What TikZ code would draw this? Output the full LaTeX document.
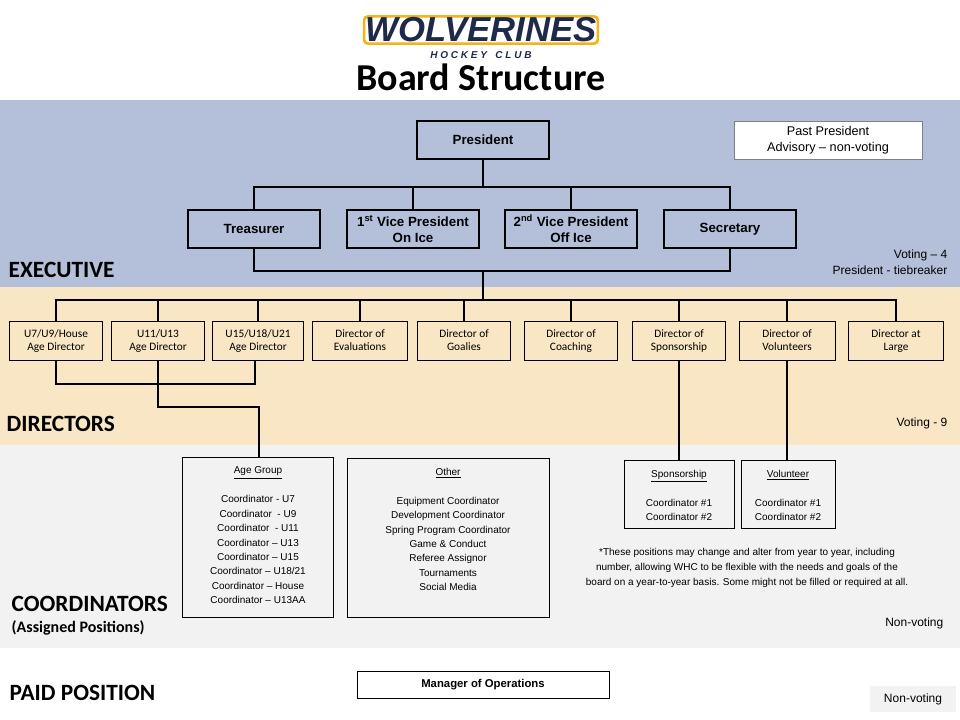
\documentclass[tikz,border=0pt]{standalone}
\usepackage{fontspec}
\setmainfont{Liberation Sans}
\newfontfamily\calib{Carlito}
\usetikzlibrary{positioning}

\definecolor{execblue}{HTML}{B4C0DA}
\definecolor{dirtan}{HTML}{F8E6C4}
\definecolor{coordgrey}{HTML}{F2F2F2}
\definecolor{navy}{HTML}{1F2A4A}
\definecolor{gold}{HTML}{F2B418}

\newcommand\twoline[2]{\strut#1\\\strut#2}

\tikzset{
  role/.style={draw, thick, minimum height=28.5pt, align=center, font=\fontsize{10}{12}\selectfont\bfseries, inner sep=1pt},
  dir/.style={draw, minimum height=29pt, align=center, font=\calib\fontsize{8.5}{10}\selectfont, inner sep=1pt},
  pool/.style={align=center, font=\fontsize{7.5}{10.8}\selectfont, inner sep=2pt, anchor=north},
  band/.style={font=\calib\bfseries\fontsize{17.5}{20}\selectfont, anchor=west},
  vote/.style={font=\fontsize{9}{12}\selectfont, align=right, anchor=east},
  wire/.style={thick}
}

\begin{document}
\begin{tikzpicture}[x=0.75pt, y=-0.75pt]

    % --- bands ---
    \useasboundingbox (0,0) rectangle (960,720);
    \fill[white] (0,0) rectangle (960,720);
    \fill[execblue] (0,100) rectangle (960,287);
    \fill[dirtan] (0,287) rectangle (960,445);
    \fill[coordgrey] (0,445) rectangle (960,648);

    % --- title ---
    \node[font=\bfseries\itshape\fontsize{26}{26}\selectfont, text=navy, draw=gold, line width=2pt, fill=white, rounded corners=3pt, inner sep=1pt] (logo) at (481,30) {WOLVERINES};
    \node[font=\bfseries\itshape\fontsize{7.5}{7.5}\selectfont, text=navy] (club) at (481,55) {H O C K E Y \ \ C L U B};
    \node[font=\calib\bfseries\fontsize{28.5}{28}\selectfont] (title) at (481,77) {Board Structure};

    % --- executive ---
    \node[role, minimum width=99pt] (pres) at (483,140) {President};
    \node[draw=gray, fill=white, minimum width=141pt, minimum height=28.5pt, align=center, font=\fontsize{9.5}{12}\selectfont] (past) at (828,140) {Past President\\Advisory -- non-voting};
    \node[role, minimum width=99pt] (treas) at (254,229) {Treasurer};
    \node[role, minimum width=99pt] (vp1) at (413,229) {1\textsuperscript{st} Vice President\\On Ice};
    \node[role, minimum width=99pt] (vp2) at (571,229) {2\textsuperscript{nd} Vice President\\Off Ice};
    \node[role, minimum width=99pt] (sec) at (730,229) {Secretary};

    \coordinate (ebus) at (483,187);
    \draw[wire] (pres.south) -- (ebus);
    \draw[wire] (treas.north) |- (sec.north |- ebus) -- (sec.north);
    \draw[wire] (vp1.north) -- (vp1.north |- ebus);
    \draw[wire] (vp2.north) -- (vp2.north |- ebus);
    \draw[wire] (treas.south) |- (483,271) -| (sec.south);
    \coordinate (dbus) at (483,300);
    \draw[wire] (483,271) -- (dbus);

    % --- directors ---
    \node[dir, minimum width=70pt] (d1) at (56,341) {\twoline{U7/U9/House}{Age Director}};
    \node[dir, minimum width=70pt] (d2) at (158,341) {\twoline{U11/U13}{Age Director}};
    \node[dir, minimum width=68pt] (d3) at (258,341) {\twoline{U15/U18/U21}{Age Director}};
    \node[dir, minimum width=71pt] (d4) at (360,341) {\twoline{Director of}{Evaluations}};
    \node[dir, minimum width=70pt] (d5) at (464,341) {\twoline{Director of}{Goalies}};
    \node[dir, minimum width=70pt] (d6) at (571,341) {\twoline{Director of}{Coaching}};
    \node[dir, minimum width=70pt] (d7) at (679,341) {\twoline{Director of}{Sponsorship}};
    \node[dir, minimum width=72pt] (d8) at (787,341) {\twoline{Director of}{Volunteers}};
    \node[dir, minimum width=71pt] (d9) at (896,341) {\twoline{Director at}{Large}};

    \draw[wire] (d1.north) |- (d9.north |- dbus) -- (d9.north);
    \foreach \d in {d2,d3,d4,d5,d6,d7,d8}
        \draw[wire] (\d.north) -- (\d.north |- dbus);

    \draw[wire] (d1.south) |- (255,384) -- (255,361);
    \coordinate (agejoin) at (259,407);

    % --- coordinators ---
    \node[pool] (age) at (258,464) {\underline{Age Group}\\[11pt]Coordinator - U7\\Coordinator \ - U9\\Coordinator \ - U11\\Coordinator -- U13\\Coordinator -- U15\\Coordinator -- U18/21\\Coordinator -- House\\Coordinator -- U13AA};
    \node[pool] (other) at (448,465) {\underline{Other}\\[11pt]Equipment Coordinator\\Development Coordinator\\Spring Program Coordinator\\Game \& Conduct\\Referee Assignor\\Tournaments\\Social Media};
    \node[pool] (spons) at (679,467) {\underline{Sponsorship}\\[11pt]Coordinator \#1\\Coordinator \#2};
    \node[pool] (volun) at (788,467) {\underline{Volunteer}\\[11pt]Coordinator \#1\\Coordinator \#2};
    \draw (182,457) rectangle (333,617);
    \draw (347,458) rectangle (549,617);
    \draw (624,460) rectangle (734,528);
    \draw (741,460) rectangle (835,528);

    \draw[wire] (d2.south) |- (agejoin) -- (259,457);
    \draw[wire] (d7.south) -- (679,460);
    \draw[wire] (d8.south) -- (787,460);

    \node[font=\fontsize{7.5}{11}\selectfont, align=center] (note) at (747,568) {*These positions may change and alter from year to year, including\\number, allowing WHC to be flexible with the needs and goals of the\\board on a year-to-year basis. Some might not be filled or required at all.};

    % --- paid ---
    \node[draw, minimum width=189pt, minimum height=20pt, font=\fontsize{8.5}{10}\selectfont\bfseries] (mgr) at (483,685) {Manager of Operations};

    % --- band labels ---
    \node[band] (lexec) at (4,270) {EXECUTIVE};
    \node[band] (ldir) at (2,424) {DIRECTORS};
    \node[band] (lcoord) at (7,604) {COORDINATORS};
    \node[anchor=west, font=\calib\bfseries\fontsize{12}{14}\selectfont] (lassign) at (7,628) {(Assigned Positions)};
    \node[band] (lpaid) at (5,693) {PAID POSITION};

    \node[vote] (v1) at (952,262) {Voting -- 4\\President - tiebreaker};
    \node[vote] (v2) at (952,423) {Voting - 9};
    \node[vote] (v3) at (948,623) {Non-voting};
    \node[fill=coordgrey, minimum width=64pt, minimum height=20pt, font=\fontsize{9}{12}\selectfont] (v4) at (913,699) {Non-voting};

\end{tikzpicture}
\end{document}
